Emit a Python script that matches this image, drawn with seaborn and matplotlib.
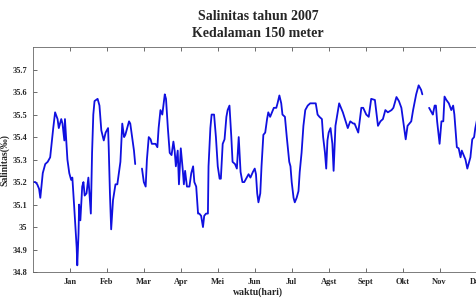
import numpy as np
import pandas as pd
import matplotlib
matplotlib.use("Agg")
import matplotlib.pyplot as plt
import seaborn as sns

# salinitas harian 2007, kedalaman 150 m
hari_1 = [0, 2, 3.5, 5, 6, 8, 10, 12, 14, 16.5, 18, 20, 21, 23, 24, 25.5, 26, 28, 29.5,
          31, 32, 33.5, 35.5, 36, 37, 37.5, 38.5, 40, 41, 42, 43.5, 45, 47, 48, 49, 50,
          52.5, 54, 55.5, 57.5, 59, 61, 61.5, 62.5, 63.5, 65, 67, 68.5, 70, 71, 72.5, 74,
          75, 76.5, 78, 79, 80.5, 82, 83]
sal_1 = [35.20, 35.20, 35.19, 35.17, 35.13, 35.24, 35.28, 35.29, 35.31, 35.44, 35.51, 35.48,
         35.44, 35.48, 35.46, 35.385, 35.48, 35.30, 35.24, 35.21, 35.22, 35.09, 34.91, 34.83,
         34.97, 35.10, 35.03, 35.18, 35.20, 35.14, 35.15, 35.22, 35.06, 35.33, 35.50, 35.56,
         35.57, 35.54, 35.43, 35.385, 35.42, 35.44, 35.355, 35.15, 34.99, 35.12, 35.19, 35.19,
         35.25, 35.29, 35.46, 35.40, 35.41, 35.44, 35.47, 35.46, 35.40, 35.34, 35.28]

hari_2 = [88.5, 90, 91.5, 92.5, 94, 95.5, 96.5, 99.5, 101, 102, 103.5, 105, 107, 108, 109.5,
          111, 112.5, 114, 115, 116, 117.5, 118.5, 120, 121.5, 122.5, 123.5, 125, 127, 128.5,
          130, 131, 132.5, 134, 135, 136.5, 138, 139, 140.5, 142, 142.5, 144, 145, 147, 148.5,
          150, 151.5, 152.5, 154, 155.5, 157, 158, 159.5, 161, 162, 164, 165.5, 167, 168.5,
          170, 171.5, 173.5, 175, 176.5, 178.5, 180, 181, 182, 183, 184.5, 185.5, 187, 188.5,
          190, 191, 192.5, 194, 195.5, 197.5, 198.5, 200, 201.5, 202.5, 204.5, 206, 208, 209,
          210, 211.5, 212.5, 214, 215.5, 216.5, 218, 219.5, 221, 223, 225, 227.5, 229.5, 231,
          232.5, 234.5, 235.5, 237, 238, 239, 240, 241.5, 243, 244, 245.5, 248.5, 251.5,
          255.5, 257.5, 260, 261, 264, 266.5, 268, 270.5, 272.5, 274.5, 277.5, 280, 282, 284,
          286, 288, 291, 292.5, 295, 297, 299, 301, 302.5, 304, 305.5, 307, 308.5, 311, 313,
          315, 316]
sal_2 = [35.26, 35.20, 35.18, 35.30, 35.40, 35.39, 35.37, 35.37, 35.355, 35.44, 35.52, 35.50,
         35.59, 35.57, 35.44, 35.33, 35.32, 35.38, 35.34, 35.27, 35.34, 35.19, 35.35, 35.26,
         35.19, 35.25, 35.18, 35.18, 35.24, 35.27, 35.20, 35.18, 35.06, 35.06, 35.05, 35.00,
         35.05, 35.06, 35.06, 35.27, 35.44, 35.50, 35.50, 35.40, 35.27, 35.215, 35.215, 35.37,
         35.39, 35.49, 35.52, 35.54, 35.40, 35.29, 35.28, 35.26, 35.40, 35.245, 35.20, 35.20,
         35.22, 35.235, 35.22, 35.245, 35.26, 35.235, 35.15, 35.11, 35.15, 35.27, 35.41, 35.42,
         35.48, 35.51, 35.49, 35.51, 35.53, 35.53, 35.55, 35.585, 35.55, 35.50, 35.49, 35.40,
         35.29, 35.27, 35.20, 35.13, 35.11, 35.13, 35.16, 35.245, 35.33, 35.45, 35.52, 35.54,
         35.55, 35.55, 35.55, 35.50, 35.49, 35.48, 35.40, 35.33, 35.26, 35.385, 35.42, 35.44,
         35.37, 35.25, 35.45, 35.55, 35.51, 35.44, 35.47, 35.46, 35.46, 35.42, 35.53, 35.53,
         35.50, 35.49, 35.57, 35.565, 35.45, 35.47, 35.48, 35.52, 35.51, 35.52, 35.53, 35.578,
         35.56, 35.53, 35.45, 35.39, 35.45, 35.46, 35.47, 35.52, 35.59, 35.63, 35.61, 35.59]

hari_3 = [321.5, 323.5, 324.5, 326, 327, 328, 330, 331.5, 333, 334, 335.5, 337.5, 339.5, 341,
          342, 344, 345.5, 347, 348, 349.5, 351, 352.5, 354, 355, 356.5, 358, 359, 360.5,
          362.5, 365]
sal_3 = [35.53, 35.51, 35.50, 35.54, 35.54, 35.47, 35.37, 35.47, 35.47, 35.58, 35.565, 35.55,
         35.52, 35.54, 35.50, 35.355, 35.35, 35.31, 35.34, 35.32, 35.30, 35.26, 35.29, 35.31,
         35.39, 35.40, 35.44, 35.48, 35.52, 35.55]

bulan = ["Jan", "Feb", "Mar", "Apr", "Mei", "Jun", "Jul", "Agst", "Sept", "Okt", "Nov", "Des"]
bulan_hari = [30, 60, 90, 120, 150, 180, 210, 240, 270, 300, 330, 360]
y_ticks = [34.8, 34.9, 35.0, 35.1, 35.2, 35.3, 35.4, 35.5, 35.6, 35.7]
y_labels = ["34.8", "34.9", "35", "35.1", "35.2", "35.3", "35.4", "35.5", "35.6", "35.7"]

df = pd.concat([
    pd.DataFrame({"hari": hari_1, "sal": sal_1, "seg": 1}),
    pd.DataFrame({"hari": hari_2, "sal": sal_2, "seg": 2}),
    pd.DataFrame({"hari": hari_3, "sal": sal_3, "seg": 3}),
])

sns.set_style("ticks")
plt.rcParams["font.family"] = ["Liberation Serif", "DejaVu Serif"]
plt.rcParams["font.weight"] = "bold"

fig = plt.figure(figsize=(4.77, 2.98), dpi=100)
ax = fig.add_axes([0.069, 0.087, 0.943, 0.755])

sns.lineplot(data=df, x="hari", y="sal", units="seg", estimator=None, sort=False,
             color="#1010e0", linewidth=1.3, ax=ax)

ax.set_xlim(0, 365)
ax.set_ylim(34.8, 35.8)
ax.set_xticks(bulan_hari)
ax.set_xticklabels(bulan, fontsize=6, fontweight="bold")
ax.set_yticks(y_ticks)
ax.set_yticklabels(y_labels, fontsize=6, fontweight="bold")
ax.tick_params(direction="in", top=True, right=True, length=3, width=0.6, pad=4, color="#555555")
for s in ax.spines.values():
    s.set_linewidth(0.6)
    s.set_color("#666666")

ax.set_xlabel("waktu(hari)", fontsize=7, fontweight="bold", labelpad=1)
ax.set_ylabel("Salinitas(‰)", fontsize=7, fontweight="bold", labelpad=2)
fig.text(0.541, 0.945, "Salinitas tahun 2007", ha="center", va="center", fontsize=10, fontweight="bold")
fig.text(0.541, 0.888, "Kedalaman 150 meter", ha="center", va="center", fontsize=10, fontweight="bold")

fig.savefig("out.png", dpi=100)
